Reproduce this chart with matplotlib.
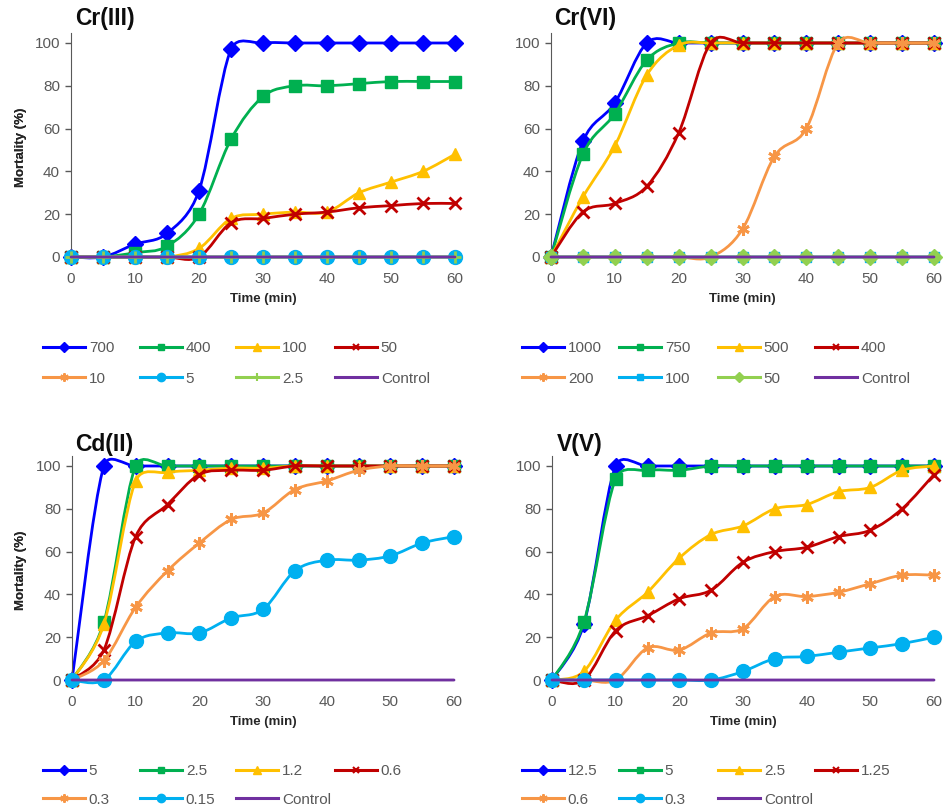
import numpy as np
import matplotlib
matplotlib.use("Agg")
import matplotlib.pyplot as plt
from matplotlib.path import Path
from matplotlib.patches import PathPatch
from matplotlib.lines import Line2D

plt.rcParams['font.family'] = ['Liberation Sans', 'DejaVu Sans']

time = [0, 5, 10, 15, 20, 25, 30, 35, 40, 45, 50, 55, 60]

# ---- Cr(III) ----
cr3_labels = ["700", "400", "100", "50", "10", "5", "2.5", "Control"]
cr3_700 = [0, 0, 6, 11, 31, 97, 100, 100, 100, 100, 100, 100, 100]
cr3_400 = [0, 0, 2, 5, 20, 55, 75, 80, 80, 81, 82, 82, 82]
cr3_100 = [0, 0, 0, 0, 4, 18, 20, 21, 21, 30, 35, 40, 48]
cr3_50 = [0, 0, 0, 0, 0, 16, 18, 20, 21, 23, 24, 25, 25]
cr3_10 = [0, 0, 0, 0, 0, 0, 0, 0, 0, 0, 0, 0, 0]
cr3_5 = [0, 0, 0, 0, 0, 0, 0, 0, 0, 0, 0, 0, 0]
cr3_2p5 = [0, 0, 0, 0, 0, 0, 0, 0, 0, 0, 0, 0, 0]
cr3_ctrl = [0, 0, 0, 0, 0, 0, 0, 0, 0, 0, 0, 0, 0]

# ---- Cr(VI) ----
cr6_labels = ["1000", "750", "500", "400", "200", "100", "50", "Control"]
cr6_1000 = [0, 54, 72, 100, 100, 100, 100, 100, 100, 100, 100, 100, 100]
cr6_750 = [0, 48, 67, 92, 100, 100, 100, 100, 100, 100, 100, 100, 100]
cr6_500 = [0, 28, 52, 85, 99, 100, 100, 100, 100, 100, 100, 100, 100]
cr6_400 = [0, 21, 25, 33, 58, 100, 100, 100, 100, 100, 100, 100, 100]
cr6_200 = [0, 0, 0, 0, 0, 0, 13, 47, 60, 100, 100, 100, 100]
cr6_100 = [0, 0, 0, 0, 0, 0, 0, 0, 0, 0, 0, 0, 0]
cr6_50 = [0, 0, 0, 0, 0, 0, 0, 0, 0, 0, 0, 0, 0]
cr6_ctrl = [0, 0, 0, 0, 0, 0, 0, 0, 0, 0, 0, 0, 0]

# ---- Cd(II) ----
cd_labels = ["5", "2.5", "1.2", "0.6", "0.3", "0.15", "Control"]
cd_5 = [0, 100, 100, 100, 100, 100, 100, 100, 100, 100, 100, 100, 100]
cd_2p5 = [0, 27, 100, 100, 100, 100, 100, 100, 100, 100, 100, 100, 100]
cd_1p2 = [0, 26, 93, 97, 98, 99, 99, 100, 100, 100, 100, 100, 100]
cd_0p6 = [0, 14, 67, 82, 96, 98, 98, 100, 100, 100, 100, 100, 100]
cd_0p3 = [0, 9, 34, 51, 64, 75, 78, 89, 93, 98, 100, 100, 100]
cd_0p15 = [0, 0, 18, 22, 22, 29, 33, 51, 56, 56, 58, 64, 67]
cd_ctrl = [0, 0, 0, 0, 0, 0, 0, 0, 0, 0, 0, 0, 0]

# ---- V(V) ----
v_labels = ["12.5", "5", "2.5", "1.25", "0.6", "0.3", "Control"]
v_12p5 = [0, 26, 100, 100, 100, 100, 100, 100, 100, 100, 100, 100, 100]
v_5 = [0, 27, 94, 98, 98, 100, 100, 100, 100, 100, 100, 100, 100]
v_2p5 = [0, 4, 28, 41, 57, 68, 72, 80, 82, 88, 90, 98, 100]
v_1p25 = [0, 0, 23, 30, 38, 42, 55, 60, 62, 67, 70, 80, 96]
v_0p6 = [0, 0, 0, 15, 14, 22, 24, 39, 39, 41, 45, 49, 49]
v_0p3 = [0, 0, 0, 0, 0, 0, 4, 10, 11, 13, 15, 17, 20]
v_ctrl = [0, 0, 0, 0, 0, 0, 0, 0, 0, 0, 0, 0, 0]

BLUE, GREEN, GOLD, RED = '#0000FF', '#00B050', '#FFC000', '#C00000'
ORANGE, LBLUE, LGREEN, PURPLE = '#F79646', '#00B0F0', '#92D050', '#7030A0'
AST = (6, 2, 0)

# (color, marker, markersize, legend markersize)
st_cr3 = [(BLUE, 'D', 8, 5), (GREEN, 's', 9, 5), (GOLD, '^', 9, 6), (RED, 'x', 8, 5),
          (ORANGE, AST, 9, 6), (LBLUE, 'o', 10, 6), (LGREEN, '+', 9, 6), (PURPLE, None, 0, 0)]
st_cr6 = [(BLUE, 'D', 8, 5), (GREEN, 's', 9, 5), (GOLD, '^', 9, 6), (RED, 'x', 8, 5),
          (ORANGE, AST, 9, 6), (LBLUE, 's', 7, 4), (LGREEN, 'D', 8, 5), (PURPLE, None, 0, 0)]
st_7 = [(BLUE, 'D', 8, 5), (GREEN, 's', 9, 5), (GOLD, '^', 9, 6), (RED, 'x', 8, 5),
        (ORANGE, AST, 9, 6), (LBLUE, 'o', 10, 6), (PURPLE, None, 0, 0)]

panels = [
    ("Cr(III)", cr3_labels, [cr3_700, cr3_400, cr3_100, cr3_50, cr3_10, cr3_5, cr3_2p5, cr3_ctrl], st_cr3),
    ("Cr(VI)", cr6_labels, [cr6_1000, cr6_750, cr6_500, cr6_400, cr6_200, cr6_100, cr6_50, cr6_ctrl], st_cr6),
    ("Cd(II)", cd_labels, [cd_5, cd_2p5, cd_1p2, cd_0p6, cd_0p3, cd_0p15, cd_ctrl], st_7),
    ("V(V)", v_labels, [v_12p5, v_5, v_2p5, v_1p25, v_0p6, v_0p3, v_ctrl], st_7),
]

W, H = 951, 810
fig = plt.figure(figsize=(W / 100, H / 100), dpi=100)

YTOP = 104.67
rects = [(71, 455, 257, 33), (551, 934, 257, 33), (72, 454, 680, 456), (552, 934, 680, 456)]
title_pos = [(75, 18), (554, 18), (75, 444), (557, 444)]
# legend: column x positions, row1 centre y, row2 centre y
legend_cols = [(43, 140, 236, 335), (522, 619, 718, 815), (43, 140, 236, 335), (522, 619, 718, 815)]
legend_rows = [(348, 378), (348, 378), (771, 799), (771, 799)]
FS_PX = 15.3      # legend font size in px (11 pt)
ENTRY_H = 13.5    # height of one legend entry in px

GRAY = '#595959'


def smooth_path(ax, x, y):
    """Excel-like smoothed line: cubic Bezier segments whose control points are
    derived from neighbouring data points (computed in display space)."""
    pts = ax.transData.transform(np.column_stack([x, y]).astype(float))
    n = len(pts)
    verts = [pts[0]]
    codes = [Path.MOVETO]
    for i in range(n - 1):
        p0 = pts[i - 1] if i > 0 else pts[i]
        p1 = pts[i]
        p2 = pts[i + 1]
        p3 = pts[i + 2] if i + 2 < n else pts[i + 1]
        d12 = np.hypot(*(p2 - p1))
        v1 = p2 - p0
        v2 = p3 - p1
        n1 = np.hypot(*v1)
        n2 = np.hypot(*v2)
        c1 = p1 + (v1 / n1 * min(n1 / 6.0, d12 / 2.0) if n1 > 0 else 0)
        c2 = p2 - (v2 / n2 * min(n2 / 6.0, d12 / 2.0) if n2 > 0 else 0)
        verts += [c1, c2, p2]
        codes += [Path.CURVE4] * 3
    verts = ax.transData.inverted().transform(np.array(verts))
    return Path(verts, codes)


for k, (title, labels, series, styles) in enumerate(panels):
    x0, x1, yb, yt = rects[k]
    ax = fig.add_axes([x0 / W, 1 - yb / H, (x1 - x0) / W, (yb - yt) / H])
    ax.set_xlim(0, 60)
    ax.set_ylim(0, YTOP)
    handles = []
    for i, (vals, (col, mk, ms, lms)) in enumerate(zip(series, styles)):
        z = 2 + i * 0.1
        patch = PathPatch(smooth_path(ax, time, vals), facecolor='none', edgecolor=col,
                          lw=2.0, zorder=z, clip_on=False, capstyle='round', joinstyle='round')
        ax.add_patch(patch)
        thin = mk in ('x', '+') or mk == AST
        if mk is not None:
            ax.plot(time, vals, linestyle='none', marker=mk, markersize=ms, color=col,
                    markeredgecolor=col, markeredgewidth=2 if thin else 1,
                    zorder=z + 0.05, clip_on=False)
        handles.append(Line2D([], [], color=col, lw=2.2, marker=mk,
                              markersize=lms, markeredgewidth=1.5 if thin else 1))
    ax.set_xticks([0, 10, 20, 30, 40, 50, 60])
    ax.set_yticks([0, 20, 40, 60, 80, 100])
    for s in ('top', 'right'):
        ax.spines[s].set_visible(False)
    ax.spines['left'].set_color(GRAY)
    ax.spines['bottom'].set_color(GRAY)
    ax.tick_params(axis='y', direction='out', length=4, width=1, color=GRAY, pad=4,
                   labelsize=11, labelcolor=GRAY)
    ax.tick_params(axis='x', length=0, pad=10.5, labelsize=11, labelcolor=GRAY)
    ax.set_ylabel("Mortality (%)", fontsize=9.5, fontweight='bold', color='#262626')
    ax.yaxis.set_label_coords((27 - x0) / (x1 - x0), 0.49)
    ax.set_xlabel("Time (min)", fontsize=9.5, fontweight='bold', color='#262626')
    ax.xaxis.set_label_coords(0.5, -36.0 / (yb - yt))
    fig.text(title_pos[k][0] / W, 1 - title_pos[k][1] / H, title, fontsize=16.5,
             fontweight='bold', ha='left', va='center', color='#0d0d0d')

    # legend: 4 equal-width columns, filled row by row (as in Excel)
    r1, r2 = legend_rows[k]
    ytop = r1 - ENTRY_H / 2
    for c in range(4):
        idx = [j for j in (c, c + 4) if j < len(labels)]
        fig.legend([handles[j] for j in idx], [labels[j] for j in idx],
                   loc='upper left', bbox_to_anchor=(legend_cols[k][c] / W, 1 - ytop / H),
                   ncol=1, frameon=False, fontsize=11, handlelength=2.75, handletextpad=0.25,
                   labelspacing=(r2 - r1 - ENTRY_H) / FS_PX, borderpad=0, borderaxespad=0,
                   labelcolor=GRAY)

fig.savefig("out.png", dpi=100)
